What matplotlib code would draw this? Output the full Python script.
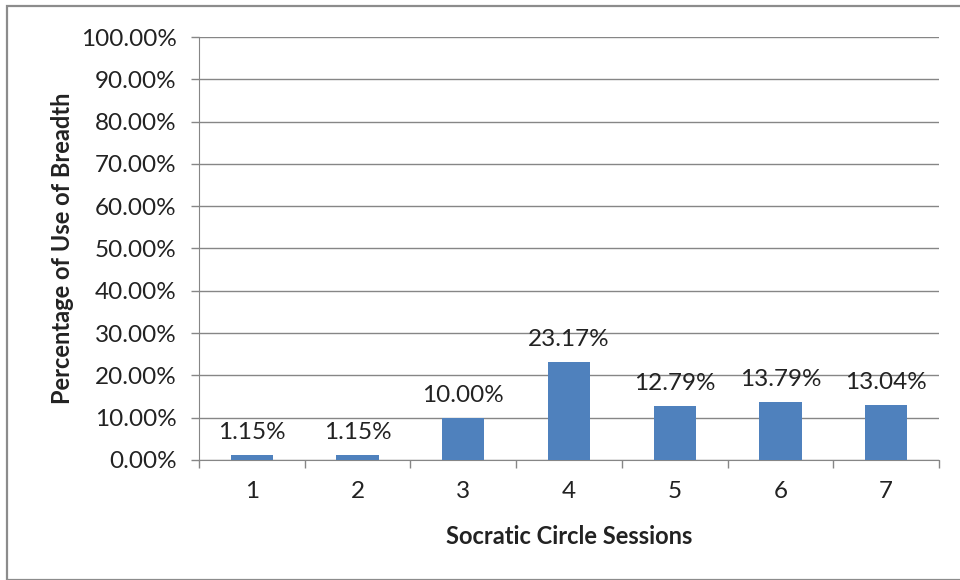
import matplotlib
matplotlib.use("Agg")
import matplotlib.pyplot as plt
from matplotlib.patches import Rectangle
from matplotlib.ticker import FuncFormatter, FixedLocator

sessions = ["1", "2", "3", "4", "5", "6", "7"]
breadth_pct = [1.15, 1.15, 10.00, 23.17, 12.79, 13.79, 13.04]
y_ticks = [0, 10, 20, 30, 40, 50, 60, 70, 80, 90, 100]

plt.rcParams["font.family"] = ["Lato", "DejaVu Sans"]

W, H = 960, 580
fig = plt.figure(figsize=(W / 100, H / 100), dpi=100)

# outer chart frame
fig.patches.append(Rectangle((7 / W, 0), 1.0, 1 - 6 / H, transform=fig.transFigure,
                             fill=False, edgecolor="#8c8c8c", linewidth=1.6, zorder=0))

ax = fig.add_axes([199 / W, (H - 460) / H, (939 - 199) / W, (460 - 37) / H])

bar_color = "#4F81BD"
grid_color = "#868686"
text_color = "#222222"
xs = list(range(1, len(sessions) + 1))
ax.bar(xs, breadth_pct, width=0.4, color=bar_color, zorder=3)

for x, v in zip(xs, breadth_pct):
    ax.annotate(f"{v:.2f}%", (x, v), xytext=(0, 11.5), textcoords="offset points",
                ha="center", va="baseline", fontsize=17.5, color=text_color, zorder=4)

ax.set_xlim(0.5, len(sessions) + 0.5)
ax.set_ylim(0, 100)
ax.set_yticks(y_ticks)
ax.yaxis.set_major_formatter(FuncFormatter(lambda v, p: f"{v:.2f}%"))
ax.grid(axis="y", color=grid_color, linewidth=1.0, zorder=0)

ax.set_xticks(xs)
ax.set_xticklabels(sessions)
ax.xaxis.set_minor_locator(FixedLocator([i + 0.5 for i in range(0, len(sessions) + 1)]))
ax.tick_params(axis="x", which="major", length=0, pad=15, labelsize=17.5, labelcolor=text_color)
ax.tick_params(axis="x", which="minor", length=6, color=grid_color, width=1.0)
ax.tick_params(axis="y", length=6, color=grid_color, width=1.0, pad=10,
               labelsize=17.5, labelcolor=text_color)

for side in ["top", "right"]:
    ax.spines[side].set_visible(False)
ax.spines["left"].set_color(grid_color)
ax.spines["bottom"].set_color(grid_color)

ax.set_xlabel("Socratic Circle Sessions", fontsize=17, fontweight="bold",
              color=text_color, labelpad=17)
ax.set_ylabel("Percentage of Use of Breadth", fontsize=17, fontweight="bold",
              color=text_color, labelpad=5)

fig.savefig("out.png", dpi=100)
